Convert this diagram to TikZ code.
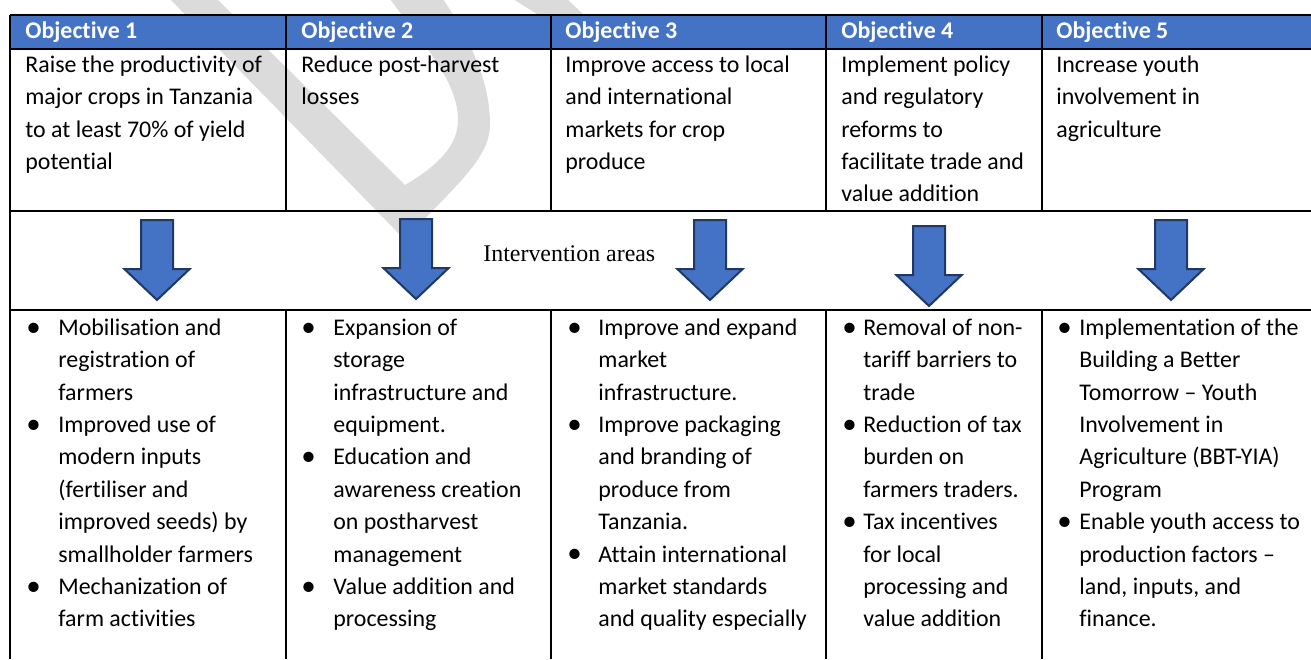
\documentclass[tikz,border=0pt]{standalone}
\usepackage{fontspec}
\setmainfont{Carlito}[Ligatures=NoCommon]
\newfontfamily\timesfont{Liberation Serif}
\usetikzlibrary{shapes.arrows}
\definecolor{hdblue}{HTML}{4472C4}
\definecolor{arrline}{HTML}{203864}
\definecolor{wmgray}{HTML}{DBDBDB}
\tikzstyle{hd}=[anchor=base west,inner sep=0pt,text=white,font=\bfseries\fontsize{11.95}{16}\selectfont]
\tikzstyle{obj}=[anchor=north west,inner sep=0pt,align=left,font=\fontsize{11.95}{16.05}\selectfont]
\tikzstyle{area}=[anchor=north west,inner sep=0pt,align=left,font=\fontsize{11.95}{16.2}\selectfont]
\tikzstyle{down}=[single arrow,draw=arrline,fill=hdblue,line width=1pt,shape border rotate=270,
  minimum height=40pt,minimum width=32pt,single arrow head extend=8.25pt,
  single arrow tip angle=93,inner sep=7.5pt,anchor=tail]
\tikzstyle{rule}=[line width=1.1pt]
\newcommand{\bl}[1]{\llap{\makebox[#1][l]{\raisebox{-0.4pt}{\fontsize{14.5}{14.5}\selectfont\textbullet}}}}

\begin{document}
\begin{tikzpicture}[x=0.5pt,y=-0.5pt]
\useasboundingbox (0,0) rectangle (1311,659);

% watermark letters behind the table
\fill[wmgray] (170,-1) -- (405,240) .. controls (450,190) and (490,160) .. (490,125)
  .. controls (490,80) and (470,40) .. (443,-1) -- (390,-1)
  .. controls (420,40) and (458,80) .. (458,120) .. controls (458,150) and (430,170) .. (405,185)
  -- (217,-1) -- cycle;
\fill[wmgray] (513,-1) -- (567,-1) -- (585,16) -- (540,16) -- cycle;

% header band and rules
\fill[hdblue] (10,15) rectangle (1311,49);
\draw[rule] (10,15) -- (1311,15);
\draw[rule] (10,49) -- (1311,49);
\draw[rule] (10,211) -- (1311,211);
\draw[rule] (10,310) -- (1311,310);
\draw[rule] (10,15) -- (10,659);
\foreach \x in {286,551,826,1042}{
  \draw[rule] (\x,15) -- (\x,211);
  \draw[rule] (\x,310) -- (\x,659);
}

% headers
\node[hd] (h1) at (25,38.3) {Objective 1};
\node[hd] (h2) at (301,38.3) {Objective 2};
\node[hd] (h3) at (565,38.3) {Objective 3};
\node[hd] (h4) at (841,38.3) {Objective 4};
\node[hd] (h5) at (1056,38.3) {Objective 5};

% objectives
\node[obj] (o1) at (25,50) {\strut Raise the productivity of\\major crops in Tanzania\\to at least 70\% of yield\\potential};
\node[obj] (o2) at (301,50) {\strut Reduce post-harvest\\losses};
\node[obj] (o3) at (565,50) {\strut Improve access to local\\and international\\markets for crop\\produce};
\node[obj] (o4) at (841,50) {\strut Implement policy\\and regulatory\\reforms to\\facilitate trade and\\value addition};
\node[obj] (o5) at (1056,50) {\strut Increase youth\\involvement in\\agriculture};

% arrows down to the intervention areas
\node[down] (a1) at (157,219) {};
\node[down] (a2) at (416,218) {};
\node[down] (a3) at (710,219) {};
\node[down] (a4) at (929,225) {};
\node[down] (a5) at (1171,219) {};
\node[font=\timesfont\fontsize{11.95}{14}\selectfont,anchor=base west,inner sep=0pt] (iv) at (483,261) {Intervention areas};

% intervention areas
\node[area] (b1) at (58,312.3) {\strut\bl{16pt}Mobilisation and\\registration of\\farmers\\
\bl{16pt}Improved use of\\modern inputs\\(fertiliser and\\improved seeds) by\\smallholder farmers\\
\bl{16pt}Mechanization of\\farm activities};
\node[area] (b2) at (333,312.3) {\strut\bl{16pt}Expansion of\\storage\\infrastructure and\\equipment.\\
\bl{16pt}Education and\\awareness creation\\on postharvest\\management\\
\bl{16pt}Value addition and\\processing};
\node[area] (b3) at (598,312.3) {\strut\bl{15.5pt}Improve and expand\\market\\infrastructure.\\
\bl{15.5pt}Improve packaging\\and branding of\\produce from\\Tanzania.\\
\bl{15.5pt}Attain international\\market standards\\and quality especially};
\node[area] (b4) at (863,312.3) {\strut\bl{10.5pt}Removal of non-\\tariff barriers to\\trade\\
\bl{10.5pt}Reduction of tax\\burden on\\farmers traders.\\
\bl{10.5pt}Tax incentives\\for local\\processing and\\value addition};
\node[area] (b5) at (1079,312.3) {\strut\bl{11pt}Implementation of the\\Building a Better\\Tomorrow \textendash{} Youth\\Involvement in\\Agriculture (BBT-YIA)\\Program\\
\bl{11pt}Enable youth access to\\production factors \textendash\\land, inputs, and\\finance.};
\end{tikzpicture}
\end{document}
